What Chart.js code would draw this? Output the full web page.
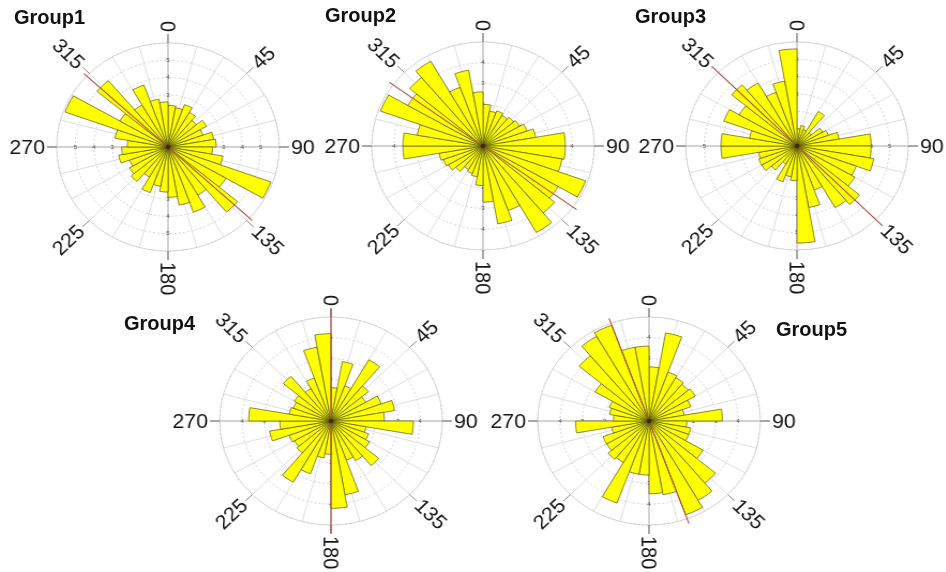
<!DOCTYPE html>
<html><head><meta charset="utf-8">
<script src="https://cdn.jsdelivr.net/npm/chart.js@4.4.1/dist/chart.umd.min.js"></script>
<style>
html,body{margin:0;padding:0;background:#fff;width:946px;height:572px;overflow:hidden;position:relative;font-family:"Liberation Sans",Arial,sans-serif}
.panel{position:absolute;width:320px;height:320px;transform:scaleX(1.07);transform-origin:160px 160px}
.panel canvas{display:block}
.title{position:absolute;font-weight:bold;font-size:20px;line-height:20px;color:#111;white-space:nowrap}
</style></head><body>
<script>
// ---- data ----
const bins = [0,10,20,30,40,50,60,70,80,90,100,110,120,130,140,150,160,170,180,190,200,210,220,230,240,250,260,270,280,290,300,310,320,330,340,350];
const group1 = [2.4,2.3,2.6,2.3,2.0,2.4,2.0,2.5,2.6,2.4,3.0,5.9,3.6,4.9,3.2,4.0,3.4,2.9,2.6,2.3,2.8,2.0,2.6,2.4,2.2,2.7,2.5,2.2,2.9,5.9,3.0,5.0,2.8,3.8,2.8,2.6];
const group2 = [2.0,1.7,1.8,1.7,1.8,1.9,2.1,2.4,3.7,3.7,3.6,4.9,3.9,4.2,4.8,3.3,3.8,2.7,1.9,1.5,1.4,1.3,1.6,1.8,1.9,2.0,3.6,3.6,3.0,4.9,3.9,4.3,4.7,3.0,3.7,2.6];
const group3 = [1.0,1.2,1.0,2.3,1.0,1.6,1.8,2.3,4.0,4.0,4.2,3.4,3.6,4.4,4.1,2.7,3.6,5.6,2.0,1.8,2.2,1.2,1.8,2.2,2.2,2.1,4.1,4.1,2.6,4.2,3.6,4.6,4.2,3.3,3.8,5.6];
const group4 = [1.6,2.9,1.8,3.4,2.2,1.8,2.4,2.9,2.4,3.7,1.6,1.8,2.0,2.8,2.2,2.0,3.6,4.2,1.6,1.8,2.7,3.4,2.0,1.9,2.0,2.8,2.3,3.7,1.9,1.8,1.9,2.8,1.8,2.2,3.6,4.2];
const group5 = [2.6,4.3,2.5,2.4,2.3,2.4,2.0,1.6,3.3,1.7,1.9,1.9,2.8,3.9,4.4,4.8,3.6,3.5,2.6,2.6,4.2,2.3,2.4,2.2,2.2,1.7,3.3,1.6,1.8,1.9,2.8,4.1,4.7,4.9,3.6,3.6];
const groupNames = ['Group1','Group2','Group3','Group4','Group5'];
const angleLabels = [0,45,90,135,180,225,270,315];
const ringMax = [6,5,6,5,5];
const ringTicks = [[3,4,5],[2,3,4],[3,4,5],[2,3,4],[2,3,4]];
const meanDirection = [313,306,315,0,340];
const meanExtent = [6.2,5.2,6.5,5.4,5.25];

const series = [group1,group2,group3,group4,group5];

// ---- layout ----
const panels = [
  {cx:168, cy:147, tx:14,  ty:7},
  {cx:483, cy:146, tx:325, ty:5},
  {cx:797, cy:146, tx:635, ty:6},
  {cx:331, cy:421, tx:124, ty:313},
  {cx:649, cy:421, tx:776, ty:319}
];
const HALF = 160, RADIUS = 104;

const rad = d => d * Math.PI / 180;

const roseDecor = {
  id: 'roseDecor',
  beforeDatasetsDraw(chart, args, o) {
    const s = chart.scales.r, ctx = chart.ctx;
    const cx = s.xCenter, cy = s.yCenter, R = s.drawingArea;
    ctx.save();
    ctx.strokeStyle = '#d6d6d6';
    ctx.lineWidth = 0.8;
    for (let a = 0; a < 360; a += 15) {
      ctx.beginPath();
      ctx.moveTo(cx, cy);
      ctx.lineTo(cx + R * Math.sin(rad(a)), cy - R * Math.cos(rad(a)));
      ctx.stroke();
    }
    ctx.strokeStyle = '#a8a8a8';
    ctx.beginPath();
    ctx.moveTo(cx - R, cy); ctx.lineTo(cx + R, cy);
    ctx.moveTo(cx, cy - R); ctx.lineTo(cx, cy + R);
    ctx.stroke();
    ctx.fillStyle = '#555';
    ctx.font = '6px "Liberation Sans", Arial, sans-serif';
    ctx.textAlign = 'center';
    ctx.textBaseline = 'middle';
    o.ticks.forEach(v => {
      const d = s.getDistanceFromCenterForValue(v);
      ctx.fillText(String(v), cx, cy - d);
      ctx.fillText(String(v), cx, cy + d);
      ctx.fillText(String(v), cx - d, cy);
      ctx.fillText(String(v), cx + d, cy);
    });
    ctx.restore();
  },
  afterDatasetsDraw(chart, args, o) {
    const s = chart.scales.r, ctx = chart.ctx;
    const cx = s.xCenter, cy = s.yCenter, R = s.drawingArea;
    ctx.save();
    // outer rim (solid)
    ctx.strokeStyle = '#d0d0d0';
    ctx.lineWidth = 0.8;
    ctx.beginPath();
    ctx.arc(cx, cy, R, 0, Math.PI * 2);
    ctx.stroke();
    // extended axis lines
    angleLabels.forEach(a => {
      ctx.strokeStyle = (a % 90 === 0) ? '#505050' : '#8c8c8c';
      ctx.lineWidth = 1;
      ctx.beginPath();
      ctx.moveTo(cx + R * Math.sin(rad(a)), cy - R * Math.cos(rad(a)));
      ctx.lineTo(cx + (R + 9) * Math.sin(rad(a)), cy - (R + 9) * Math.cos(rad(a)));
      ctx.stroke();
    });
    // mean direction line
    const L = s.getDistanceFromCenterForValue(o.meanExtent);
    const m = rad(o.meanDir);
    ctx.strokeStyle = '#b04a40';
    ctx.lineWidth = 1.1;
    ctx.beginPath();
    ctx.moveTo(cx + L * Math.sin(m), cy - L * Math.cos(m));
    ctx.lineTo(cx - L * Math.sin(m), cy + L * Math.cos(m));
    ctx.stroke();
    // centre hub
    ctx.fillStyle = '#3a2a20';
    ctx.beginPath();
    ctx.arc(cx, cy, 2.2, 0, Math.PI * 2);
    ctx.fill();
    // angle labels
    ctx.fillStyle = '#151515';
    ctx.font = '20px "Liberation Sans", Arial, sans-serif';
    ctx.textAlign = 'center';
    ctx.textBaseline = 'middle';
    angleLabels.forEach(a => {
      const txt = String(a);
      const w = ctx.measureText(txt).width;
      const r = R + 11 + w / 2;
      let rot = a - 90;
      if (rot > 90) rot -= 180;
      const x = cx + r * Math.sin(rad(a)), y = cy - r * Math.cos(rad(a));
      ctx.save();
      ctx.translate(x, y);
      ctx.rotate(rad(rot));
      ctx.fillText(txt, 0, 1);
      ctx.restore();
    });
    ctx.restore();
  }
};

series.forEach((vals, i) => {
  const p = panels[i];
  const div = document.createElement('div');
  div.className = 'panel';
  div.style.left = (p.cx - HALF) + 'px';
  div.style.top = (p.cy - HALF) + 'px';
  const cv = document.createElement('canvas');
  cv.width = HALF * 2; cv.height = HALF * 2;
  div.appendChild(cv);
  document.body.appendChild(div);

  const t = document.createElement('div');
  t.className = 'title';
  t.style.left = p.tx + 'px';
  t.style.top = p.ty + 'px';
  t.textContent = groupNames[i];
  document.body.appendChild(t);

  const pad = HALF - RADIUS;
  new Chart(cv, {
    type: 'polarArea',
    data: {
      labels: bins.map(b => b + '–' + (b + 10) + '°'),
      datasets: [{
        label: groupNames[i],
        data: vals,
        backgroundColor: '#ffff00',
        borderColor: 'rgba(80,80,10,0.85)',
        borderWidth: 0.8
      }]
    },
    options: {
      responsive: false,
      animation: false,
      devicePixelRatio: 1,
      layout: {padding: {left: pad, right: pad, top: pad, bottom: pad}},
      plugins: {
        legend: {display: false},
        tooltip: {enabled: false},
        roseDecor: {ticks: ringTicks[i], meanDir: meanDirection[i], meanExtent: meanExtent[i]}
      },
      scales: {
        r: {
          min: 0, max: ringMax[i], startAngle: 0,
          ticks: {display: false, stepSize: 1},
          grid: {circular: true, color: '#c8c8c8', lineWidth: 0.8},
          border: {dash: [2, 2]},
          angleLines: {display: false},
          pointLabels: {display: false}
        }
      }
    },
    plugins: [roseDecor]
  });
});
</script>
</body></html>
